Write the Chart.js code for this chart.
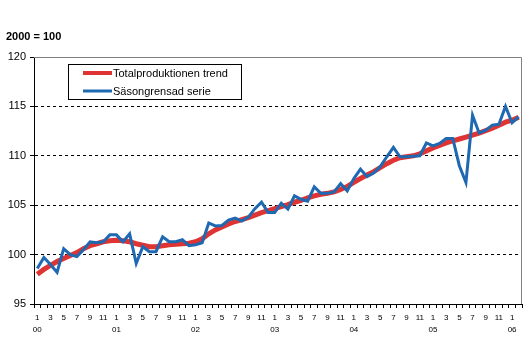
<!DOCTYPE html>
<html>
<head>
<meta charset="utf-8">
<script src="https://cdn.jsdelivr.net/npm/chart.js@4"></script>
<style>
  html, body { margin: 0; padding: 0; background: #fff; }
</style>
</head>
<body>
<canvas id="myChart" width="529" height="338"></canvas>
<script>
// tick labels
const yearLabels = ['00', '01', '02', '03', '04', '05', '06'];
const monthLabels = ['1', '3', '5', '7', '9', '11'];

// Totalproduktionen trend, jan 2000 - feb 2006
const trend = [
  98.0, 98.5, 98.9, 99.3, 99.6, 99.9, 100.2, 100.6, 100.9, 101.1, 101.3, 101.4,
  101.45, 101.4, 101.3, 101.1, 100.95, 100.8, 100.8, 100.9, 101.0, 101.05, 101.1, 101.15,
  101.3, 101.6, 102.1, 102.5, 102.8, 103.1, 103.35, 103.55, 103.75, 104.0, 104.25, 104.45,
  104.65, 104.85, 105.05, 105.3, 105.5, 105.75, 105.95, 106.1, 106.2, 106.35, 106.6, 106.9,
  107.3, 107.7, 108.05, 108.4, 108.8, 109.2, 109.55, 109.8, 109.9, 110.0, 110.2, 110.5,
  110.8, 111.05, 111.3, 111.5, 111.7, 111.9, 112.1, 112.3, 112.55, 112.8, 113.1, 113.4,
  113.6, 113.9
];

// Säsongrensad serie
const seasonal = [
  98.6, 99.7, 99.0, 98.2, 100.6, 100.0, 99.8, 100.5, 101.3, 101.2, 101.3, 102.0,
  102.0, 101.3, 102.1, 99.1, 100.8, 100.3, 100.3, 101.8, 101.3, 101.3, 101.5, 100.9,
  101.0, 101.2, 103.2, 102.9, 102.95, 103.5, 103.7, 103.4, 103.8, 104.65, 105.3, 104.25,
  104.25, 105.2, 104.6, 105.95, 105.6, 105.4, 106.85, 106.2, 106.2, 106.35, 107.2, 106.45,
  107.7, 108.65, 107.9, 108.25, 108.9, 109.9, 110.85, 109.9, 109.9, 109.95, 110.0, 111.3,
  111.0, 111.25, 111.75, 111.75, 109.0, 107.3, 114.1, 112.3, 112.6, 113.1, 113.2, 115.0,
  113.35, 113.95
];

const months = [];
for (let i = 0; i < seasonal.length; i++) {
  months.push((2000 + Math.floor(i / 12)) + '-' + (i % 12 + 1));
}

const extras = {
  id: 'extras',
  beforeDatasetsDraw(chart) {
    const {ctx, chartArea: a} = chart;
    ctx.save();
    ctx.strokeStyle = '#808080';
    ctx.lineWidth = 1;
    ctx.beginPath();
    ctx.moveTo(a.left, a.top + 0.5);
    ctx.lineTo(a.right - 0.5, a.top + 0.5);
    ctx.lineTo(a.right - 0.5, a.bottom);
    ctx.stroke();
    ctx.restore();
  },
  afterDraw(chart) {
    const ctx = chart.ctx;
    ctx.save();
    // unit title
    ctx.fillStyle = '#000';
    ctx.font = 'bold 11px "Liberation Sans", Arial, sans-serif';
    ctx.textBaseline = 'middle';
    ctx.fillText('2000 = 100', 6, 37);
    // legend
    ctx.fillStyle = '#fff';
    ctx.fillRect(68.5, 64.5, 173, 35);
    ctx.strokeStyle = '#000';
    ctx.lineWidth = 1;
    ctx.strokeRect(68.5, 64.5, 173, 35);
    ctx.lineWidth = 4;
    ctx.strokeStyle = '#df3434';
    ctx.beginPath(); ctx.moveTo(83, 73); ctx.lineTo(112, 73); ctx.stroke();
    ctx.lineWidth = 3;
    ctx.strokeStyle = '#1f68b2';
    ctx.beginPath(); ctx.moveTo(83, 91); ctx.lineTo(112, 91); ctx.stroke();
    ctx.fillStyle = '#000';
    ctx.font = '11px "Liberation Sans", Arial, sans-serif';
    ctx.fillText('Totalproduktionen trend', 113, 74);
    ctx.fillText('Säsongrensad serie', 113, 92);
    ctx.restore();
  }
};

const ctxmain = document.getElementById('myChart');

const myChart = new Chart(ctxmain, {
  type: 'line',
  data: {
    labels: months,
    datasets: [{
      label: 'Säsongrensad serie',
      data: seasonal,
      borderColor: '#1f68b2',
      borderWidth: 3,
      pointRadius: 0,
      tension: 0,
      order: 0
    }, {
      label: 'Totalproduktionen trend',
      data: trend,
      borderColor: '#df3434',
      borderWidth: 5,
      pointRadius: 0,
      tension: 0,
      order: 1
    }]
  },
  options: {
    responsive: false,
    animation: false,
    devicePixelRatio: 1,
    layout: { padding: { top: 57, right: 7, left: 0, bottom: 0 } },
    plugins: { legend: { display: false }, tooltip: { enabled: false } },
    scales: {
      x: {
        offset: true,
        grid: { drawOnChartArea: false, offset: true, tickLength: 4, color: '#000' },
        border: { color: '#000', width: 1 },
        afterFit(scale) { scale.height = 34; },
        ticks: {
          autoSkip: false,
          maxRotation: 0,
          padding: 4,
          color: '#000',
          font: { family: '"Liberation Sans", Arial, sans-serif', size: 8, lineHeight: 1.5 },
          callback(value, index) {
            const m = String(index % 12 + 1);
            if (m === '1') return [m, yearLabels[Math.floor(index / 12)]];
            return monthLabels.includes(m) ? m : '';
          }
        }
      },
      y: {
        min: 95,
        max: 120,
        afterFit(scale) { scale.width = 34; },
        grid: {
          tickLength: 4,
          tickColor: '#000',
          color(c) {
            const v = c.tick.value;
            return (v > 95 && v < 120) ? '#000' : 'rgba(0,0,0,0)';
          }
        },
        border: { color: '#000', width: 1, dash: [3, 3] },
        ticks: {
          stepSize: 5,
          padding: 4,
          color: '#000',
          font: { family: '"Liberation Sans", Arial, sans-serif', size: 11 }
        }
      }
    }
  },
  plugins: [extras]
});
</script>
</body>
</html>
